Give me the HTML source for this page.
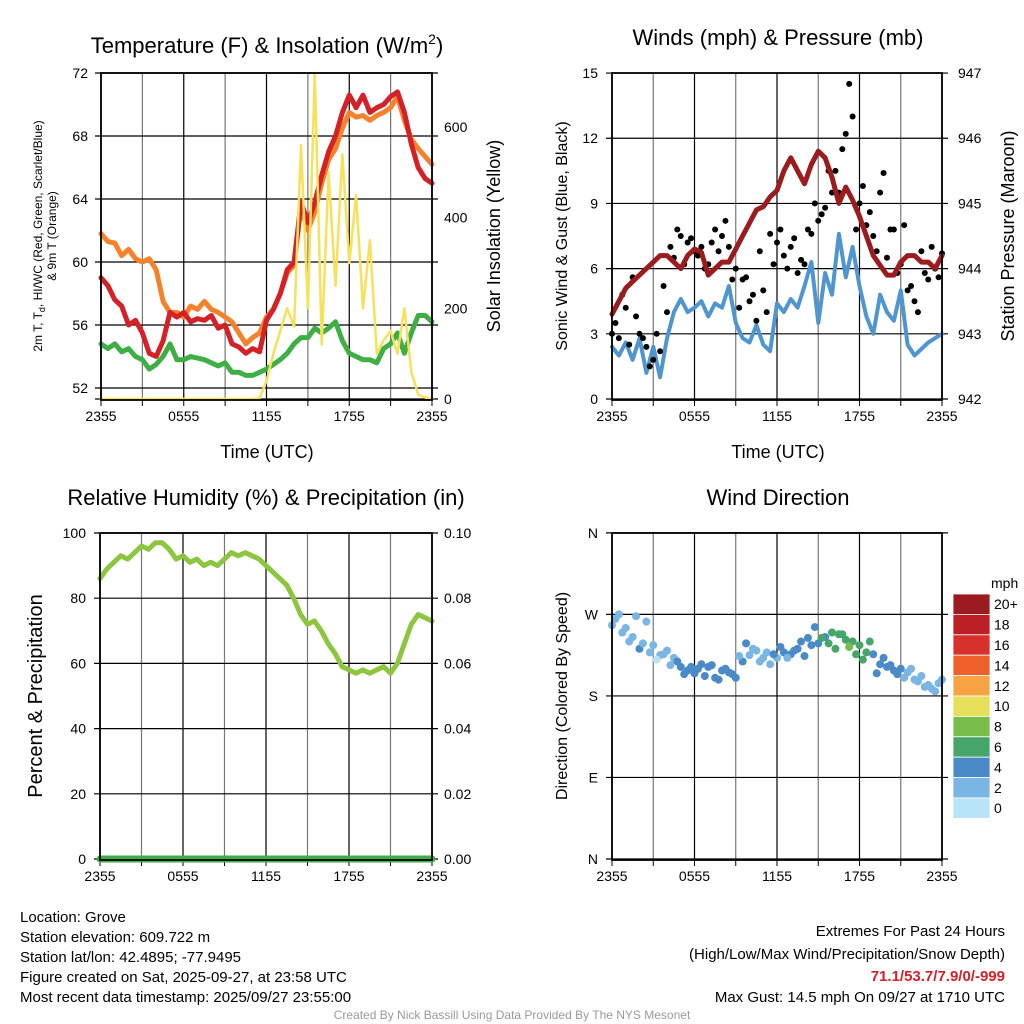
<!DOCTYPE html>
<html><head><meta charset="utf-8"><style>
body{margin:0;background:#fff;}
svg{display:block;font-family:"Liberation Sans",sans-serif;}
</style></head><body>
<svg id="c" width="1024" height="1024" viewBox="0 0 1024 1024"></svg>
<script>
const hoursLbl=["2355","0555","1155","1755","2355"];
const tempTicks=[52,56,60,64,68,72];
const solarTicks=[0,200,400,600];
const windTicks=[0,3,6,9,12,15];
const presTicks=[942,943,944,945,946,947];
const rhTicks=[0,20,40,60,80,100];
const precipTicks=["0.00","0.02","0.04","0.06","0.08","0.10"];
const dirLabels=["N","E","S","W","N"];
const tRed=[59.0,58.5,57.6,57.2,56.0,56.3,55.5,54.2,54.0,55.0,56.8,56.5,56.8,56.2,56.4,56.3,56.6,55.8,56.0,54.8,54.6,54.2,54.5,54.3,56.3,57.0,58.0,59.5,60.0,63.8,62.5,63.8,65.5,67.0,68.0,69.5,70.6,69.8,70.6,69.5,69.8,70.0,70.5,70.8,69.5,67.5,66.0,65.3,65.0];
const tOrange=[61.8,61.3,61.2,60.4,60.8,60.2,60.0,60.2,59.5,57.5,56.8,56.8,56.5,57.2,57.0,57.5,57.0,56.8,56.5,56.2,55.5,54.8,55.2,55.5,56.5,57.0,58.0,59.3,59.8,63.5,62.0,63.2,65.0,66.5,67.2,68.5,69.5,69.2,69.3,69.0,69.3,69.5,69.8,70.5,69.0,67.8,67.2,66.7,66.2];
const tGreen=[54.8,54.5,54.8,54.3,54.5,54.0,53.8,53.2,53.5,54.0,54.8,53.8,53.8,54.0,53.9,53.8,53.6,53.4,53.6,53.0,53.0,52.8,52.8,53.0,53.2,53.5,53.8,54.2,54.8,55.2,55.2,55.8,55.5,55.8,56.2,55.0,54.2,54.0,53.8,53.8,53.6,54.5,54.8,55.5,54.2,55.5,56.6,56.6,56.2];
const solar=[0,0,0,0,0,0,0,0,0,0,0,0,0,0,0,0,0,0,0,0,0,0,0,2,40,100,150,200,160,560,200,720,120,500,250,540,300,450,200,350,100,130,150,100,200,60,10,3,0];
const pres=[943.3,943.5,943.7,943.8,943.9,944.0,944.1,944.2,944.2,944.1,944.0,944.2,944.3,944.25,943.9,944.0,944.1,944.1,944.3,944.5,944.7,944.9,944.95,945.1,945.2,945.5,945.7,945.5,945.3,945.6,945.8,945.7,945.4,945.0,945.25,945.05,944.8,944.5,944.2,944.05,943.9,943.9,944.1,944.2,944.2,944.1,944.1,944.0,944.2];
const wind=[2.4,2.0,2.6,1.8,2.8,1.2,2.4,1.0,2.8,4.0,4.6,4.0,4.2,4.5,3.8,4.4,4.2,5.2,3.5,2.8,2.6,3.4,2.5,2.2,4.4,4.0,4.6,4.2,5.2,6.3,3.5,5.8,4.8,7.6,5.6,7.0,5.2,3.8,3.0,4.8,4.0,3.6,5.0,2.5,2.0,2.3,2.6,2.8,3.0];
const gustA=[3.0,2.8,4.2,5.6,3.0,2.4,1.8,2.2,4.0,6.5,7.5,7.2,6.8,7.0,6.2,7.8,7.5,7.0,6.0,5.5,4.5,3.6,5.0,7.6,7.2,6.6,7.0,5.8,6.2,7.6,8.2,8.8,9.5,9.5,12.2,13.0,9.0,8.0,7.5,9.5,6.5,7.8,6.2,5.0,4.5,6.8,5.5,6.0,6.7];
const gustB=[3.5,4.8,2.5,3.8,2.8,1.5,3.0,5.2,7.0,7.8,6.2,7.4,6.6,6.0,7.2,6.8,8.2,5.5,4.2,5.6,4.8,6.8,4.0,6.2,7.8,6.0,7.4,6.4,7.8,9.0,8.5,10.5,10.5,11.5,14.5,7.8,9.8,8.6,6.8,10.4,7.8,5.8,8.0,5.2,4.0,5.8,7.0,5.6];
const rh=[86,89,91,93,92,94,96,95,97,97,95,92,93,91,92,90,91,90,92,94,93,94,93,92,90,88,86,84,80,75,72,73,70,66,63,59,58,57,58,57,58,59,57,60,66,72,75,74,73];
const precip=[0,0,0,0,0,0,0,0,0,0,0,0,0,0,0,0,0,0,0,0,0,0,0,0,0,0,0,0,0,0,0,0,0,0,0,0,0,0,0,0,0,0,0,0,0,0,0,0,0];
const dirA=[258,270,255,245,232,262,236,225,230,222,212,208,205,215,212,200,208,206,200,218,225,230,222,215,222,228,226,232,224,236,238,245,250,248,242,240,236,228,226,215,212,208,210,206,198,202,192,185,198];
const spdA=[2,3,2,3,4,2,3,3,2,3,4,4,4,4,4,4,4,5,4,4,3,3,3,3,3,4,4,4,4,4,5,5,6,7,7,6,6,7,5,4,4,4,4,3,3,3,3,3,3];
const dirB=[265,250,240,268,238,228,220,226,214,218,204,212,210,202,214,198,210,204,224,238,232,218,228,226,234,222,230,240,244,256,244,238,232,248,234,226,220,240,205,222,214,204,200,210,196,190,188,194];
const spdB=[2,3,2,2,3,3,1,2,3,4,4,4,4,4,5,4,4,4,3,4,3,2,3,4,4,3,4,4,4,5,6,6,7,6,8,6,6,7,4,4,4,4,3,3,3,3,2,3];
const cbLabels=["20+","18","16","14","12","10","8","6","4","2","0"];
const cbColors=["#9b1b1e","#bd1f26","#d8312c","#ee5f2a","#f6a443","#e6df5c","#78bd4a","#46a66a","#4a8ac6","#79b6e4","#b9e3f7"];

const NS="http://www.w3.org/2000/svg";
const svg=document.getElementById('c');
function mk(tag,attrs,parent){const e=document.createElementNS(NS,tag);for(const k in attrs)e.setAttribute(k,attrs[k]);(parent||svg).appendChild(e);return e;}
function txt(s,x,y,size,anchor,parent,extra){const e=mk('text',Object.assign({x:x,y:y,'font-size':size,'text-anchor':anchor||'middle',fill:'#000'},extra||{}),parent);e.textContent=s;return e;}
function spdColor(s){const idx=10-Math.min(10,Math.floor(s/2));return cbColors[idx];}

function panel(name,L,R,T,B){
  const g=mk('g',{});
  
  
  const xs=h=>L+h*(R-L)/24;
  for(let k=0;k<=8;k++){const x=xs(k*3);const l=mk('line',{x1:x,x2:x,y1:T,y2:B,stroke:(k%2?'#777':'#000'),'stroke-width':1.2},g);
    
    
    mk('line',{x1:x,x2:x,y1:B,y2:B+6,stroke:'#000','stroke-width':1},g);}
  hoursLbl.forEach((s,i)=>{const t=txt(s,xs(i*6),B+21,14,'middle',g);
    
    });
  return {g,xs};
}
function hgrid(g,y,L,R){const l=mk('line',{x1:L-6,x2:R+6,y1:y,y2:y,stroke:'#000','stroke-width':1.2},g);
  
  }
function box(g,L,R,T,B){const r=mk('rect',{x:L,y:T,width:R-L,height:B-T,fill:'none',stroke:'#000','stroke-width':1.8},g);
  
  }
function path(g,arr,xs,ys,color,w,name,step){let d='';arr.forEach((v,i)=>{d+=(i?'L':'M')+xs(i*(step||0.5)).toFixed(1)+' '+ys(v).toFixed(1);});
  const p=mk('path',{d:d,fill:'none',stroke:color,'stroke-width':w,'stroke-linejoin':'round','stroke-linecap':'round'},g);
  
  return p;}

// Panel 1
(function(){
  const L=101,R=432,T=73,B=400;
  const {g,xs}=panel('temperature-panel',L,R,T,B);
  const yT=t=>388-(t-52)*15.75, yS=s=>399-s*0.4533;
  tempTicks.forEach(t=>{hgrid(g,yT(t),L,R);const e=txt(String(t),88,yT(t)+5,14,'end',g);
    
    });
  hgrid(g,yS(0),L,R);
  solarTicks.forEach(s=>{const e=txt(String(s),444,yS(s)+5,14,'start',g);
    
    });
  path(g,tOrange,xs,yT,'#f5822a',5,'series-9m-temp');
  path(g,tRed,xs,yT,'#d42027',5,'series-2m-temp');
  path(g,tGreen,xs,yT,'#3eaf44',5,'series-dewpoint');
  path(g,solar,xs,yS,'#f8e05a',2.5,'series-solar');
  box(g,L,R,T,B);
  const t=txt('',267,53,22,'middle',g);t.innerHTML='Temperature (F) &amp; Insolation (W/m<tspan dy="-9" font-size="14">2</tspan><tspan dy="9">)</tspan>';
  
  
  const a=txt('Time (UTC)',267,458,18,'middle',g);
  
  
  const y1=txt('',0,0,12,'middle',g,{transform:'translate(42,236) rotate(-90)'});y1.innerHTML='2m T, T<tspan dy="3" font-size="9">d</tspan><tspan dy="-3">, HI/WC (Red, Green, Scarlet/Blue)</tspan>';
  
  
  const y2=txt('& 9m T (Orange)',0,0,12,'middle',g,{transform:'translate(56,236) rotate(-90)'});
  
  
  const y3=txt('Solar Insolation (Yellow)',0,0,18,'middle',g,{transform:'translate(500,236) rotate(-90)'});
  
  
})();

// Panel 2
(function(){
  const L=612,R=942,T=73,B=400;
  const {g,xs}=panel('winds-panel',L,R,T,B);
  const yW=v=>399-v*21.73, yP=p=>399-(p-942)*65.2;
  windTicks.forEach(v=>{hgrid(g,yW(v),L,R);const e=txt(String(v),598,yW(v)+5,14,'end',g);
    
    });
  presTicks.forEach(p=>{const e=txt(String(p),958,yP(p)+5,14,'start',g);
    
    });
  path(g,wind,xs,yW,'#4f95d0',4,'series-wind-speed');
  const dg=mk('g',{},g);
  
  
  gustA.forEach((v,i)=>{const c=mk('circle',{cx:xs(i*0.5),cy:yW(v),r:3,fill:'#000'},dg);
    
    });
  gustB.forEach((v,i)=>{const c=mk('circle',{cx:xs(i*0.5+0.25),cy:yW(v),r:3,fill:'#000'},dg);
    
    });
  path(g,pres,xs,yP,'#9b1b1e',5,'series-pressure');
  box(g,L,R,T,B);
  const t=txt('Winds (mph) & Pressure (mb)',778,45,22,'middle',g);
  
  
  const a=txt('Time (UTC)',778,458,18,'middle',g);
  
  
  const y1=txt('Sonic Wind & Gust (Blue, Black)',0,0,16,'middle',g,{transform:'translate(567,236) rotate(-90)'});
  
  
  const y2=txt('Station Pressure (Maroon)',0,0,18,'middle',g,{transform:'translate(1014,236) rotate(-90)'});
  
  
})();

// Panel 3
(function(){
  const L=100,R=432,T=533,B=860;
  const {g,xs}=panel('humidity-panel',L,R,T,B);
  const yR=r=>859-r*3.26, yPr=p=>859-p*3260;
  rhTicks.forEach((r,i)=>{hgrid(g,yR(r),L,R);const e=txt(String(r),86,yR(r)+5,14,'end',g);
    
    
    const f=txt(precipTicks[i],444,yR(r)+5,14,'start',g);
    
    });
  path(g,rh,xs,yR,'#8cc63f',5,'series-humidity');
  path(g,precip,xs,yPr,'#3eaf44',7,'series-precipitation');
  box(g,L,R,T,B);
  const t=txt('Relative Humidity (%) & Precipitation (in)',266,505,22,'middle',g);
  
  
  const y1=txt('Percent & Precipitation',0,0,20,'middle',g,{transform:'translate(42,696) rotate(-90)'});
  
  
})();

// Panel 4
(function(){
  const L=612,R=942,T=533,B=860;
  const {g,xs}=panel('wind-direction-panel',L,R,T,B);
  const yD=d=>859-d*0.906;
  dirLabels.forEach((s,i)=>{hgrid(g,yD(i*90),L,R);const e=txt(s,598,yD(i*90)+5,14,'end',g);
    
    });
  const dg=mk('g',{},g);
  
  
  dirA.forEach((d,i)=>{const c=mk('circle',{cx:xs(i*0.5),cy:yD(d),r:4,fill:spdColor(spdA[i])},dg);
    
    });
  dirB.forEach((d,i)=>{const c=mk('circle',{cx:xs(i*0.5+0.25),cy:yD(d),r:4,fill:spdColor(spdB[i])},dg);
    
    });
  box(g,L,R,T,B);
  const t=txt('Wind Direction',778,505,22,'middle',g);
  
  
  const y1=txt('Direction (Colored By Speed)',0,0,16,'middle',g,{transform:'translate(567,696) rotate(-90)'});
  
  
  const cb=mk('g',{},g);
  
  
  const h=20.4;
  cbColors.forEach((c,i)=>{const r=mk('rect',{x:953,y:594+i*h,width:37,height:h,fill:c,stroke:'#fff','stroke-width':0.8},cb);
    
    
    const e=txt(cbLabels[i],994,594+i*h+h/2+5,14,'start',cb);
    
    });
  const u=txt('mph',991,588,14,'start',cb);
  
  
})();

// Footer text
const info=["Location: Grove","Station elevation: 609.722 m","Station lat/lon: 42.4895; -77.9495","Figure created on Sat, 2025-09-27, at 23:58 UTC","Most recent data timestamp: 2025/09/27 23:55:00"];
info.forEach((s,i)=>{const e=txt(s,20,922+i*20,15,'start');
  
  });
const r1=txt('Extremes For Past 24 Hours',1005,936,15,'end');


const r2=txt('(High/Low/Max Wind/Precipitation/Snow Depth)',1005,959,15,'end');


const r3=txt('71.1/53.7/7.9/0/-999',1005,981,15,'end',null,{fill:'#d42027','font-weight':'bold'});


const r4=txt('Max Gust: 14.5 mph On 09/27 at 1710 UTC',1005,1002,15,'end');


const cr=txt('Created By Nick Bassill Using Data Provided By The NYS Mesonet',512,1019,12,'middle',null,{fill:'#999'});


</script>
</body></html>
